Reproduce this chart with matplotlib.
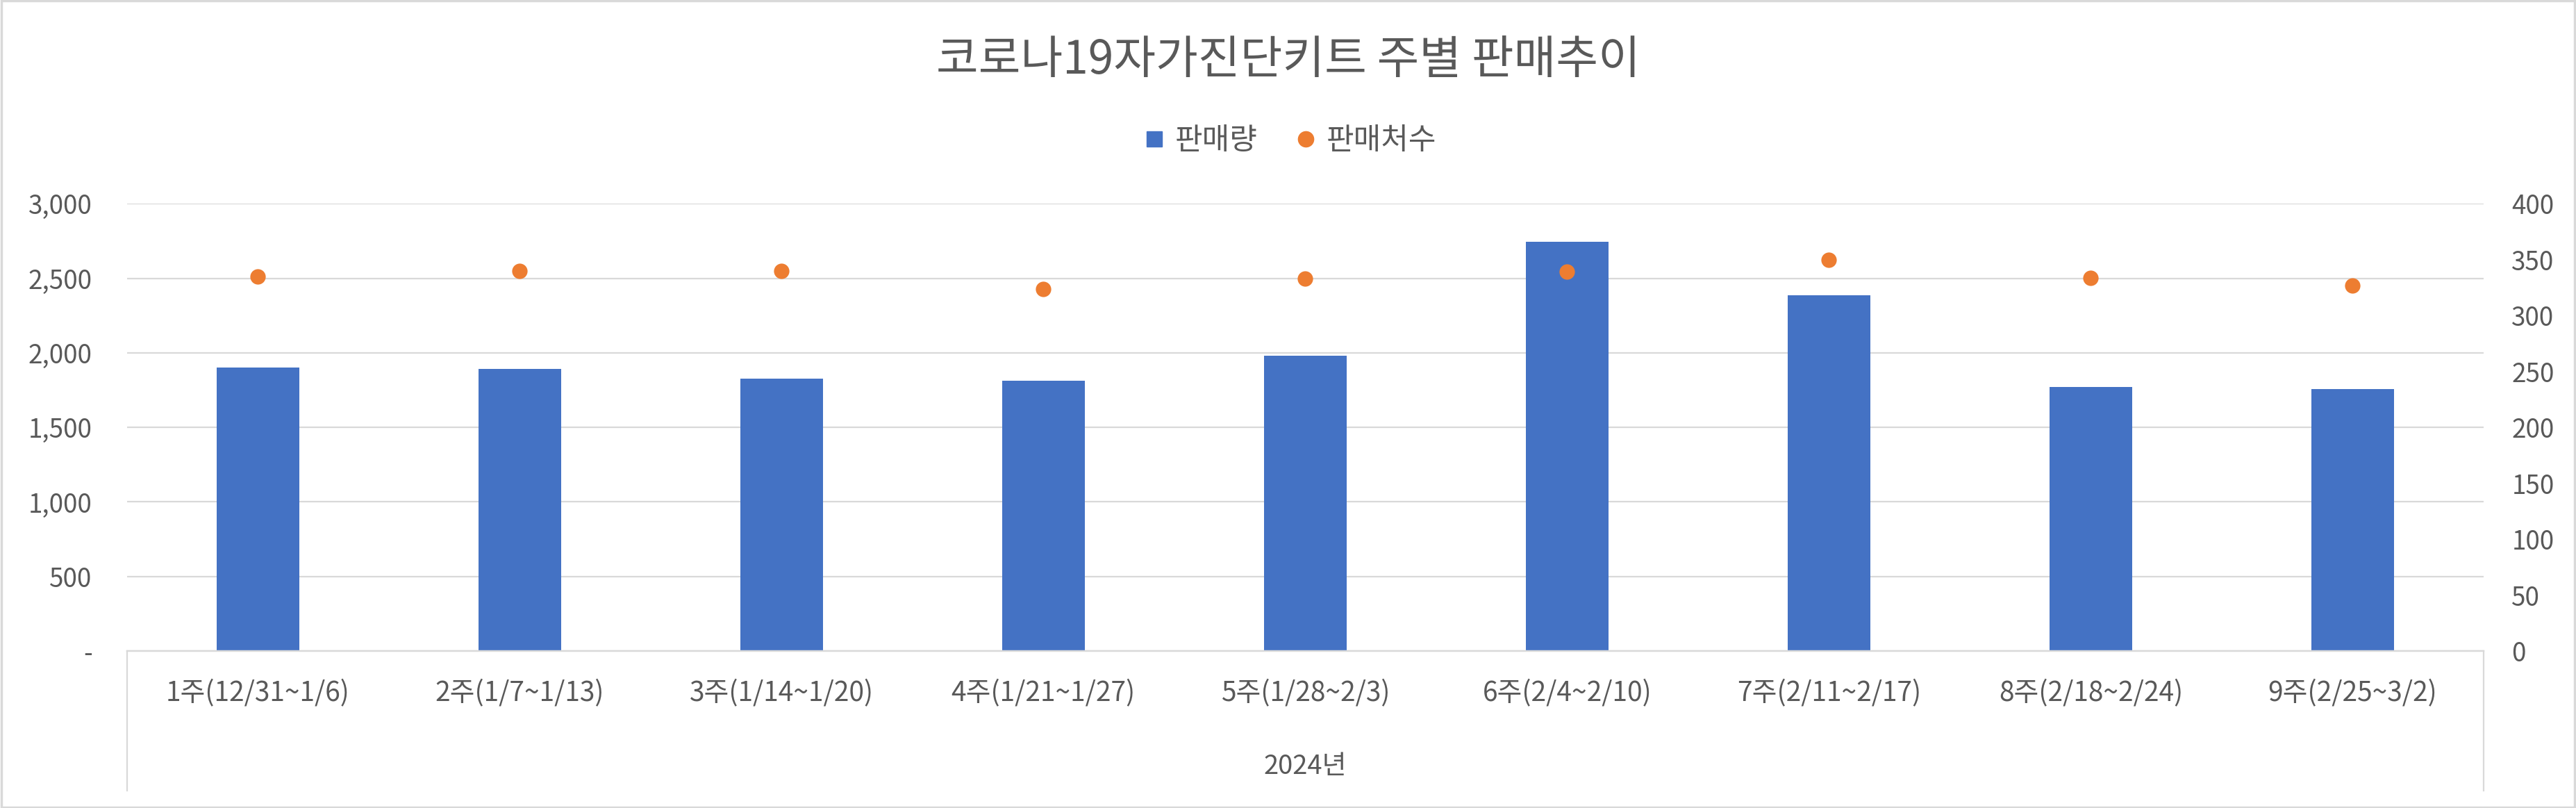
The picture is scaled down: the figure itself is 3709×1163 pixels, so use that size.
import matplotlib
matplotlib.use('Agg')
import matplotlib.pyplot as plt
import matplotlib.ticker as mticker
from matplotlib.lines import Line2D
from matplotlib.patches import Rectangle

plt.rcParams['font.family'] = ['Noto Sans CJK KR', 'DejaVu Sans']

# data
weeks = ['1주(12/31~1/6)', '2주(1/7~1/13)', '3주(1/14~1/20)', '4주(1/21~1/27)',
         '5주(1/28~2/3)', '6주(2/4~2/10)', '7주(2/11~2/17)', '8주(2/18~2/24)',
         '9주(2/25~3/2)']
sales = [1900, 1890, 1825, 1811, 1979, 2744, 2385, 1770, 1755]
stores = [335, 340, 340, 324, 333, 339, 350, 334, 327]
year_label = '2024년'
title = '코로나19자가진단키트 주별 판매추이'

BLUE = '#4472C4'
ORANGE = '#ED7D31'
GRID = '#D9D9D9'
TEXT = '#595959'

W, H = 3709, 1163
fig = plt.figure(figsize=(W / 100, H / 100), dpi=100)
ax = fig.add_axes([182.7 / W, 1 - 937 / H, (3576 - 182.7) / W, (937 - 293.3) / H])
ax2 = ax.twinx()

x = list(range(len(weeks)))

# ── bars (left axis) ──
ax.bar(x, sales, width=0.315, color=BLUE, zorder=2)
ax.set_ylim(0, 3000)
ax.set_yticks(range(0, 3001, 500))
ax.yaxis.set_major_formatter(mticker.FuncFormatter(
    lambda v, p: '-' if v == 0 else f'{int(v):,}'))
ax.grid(axis='y', color=GRID, lw=1.6)
ax.set_axisbelow(True)
ax.set_xlim(-0.5, len(weeks) - 0.5)
ax.set_xticks(x)
ax.set_xticklabels(weeks)

# ── dots (right axis) ──
ax2.plot(x, stores, 'o', color=ORANGE, ms=16, mec='none', zorder=3)
ax2.set_ylim(0, 400)
ax2.set_yticks(range(0, 401, 50))

for a in (ax, ax2):
    for s in ('top', 'left', 'right'):
        a.spines[s].set_visible(False)
    a.spines['bottom'].set_color(GRID)
    a.spines['bottom'].set_linewidth(1.6)
    a.tick_params(length=0, labelsize=26.5, labelcolor=TEXT)
ax.tick_params(axis='y', pad=36)
ax2.tick_params(axis='y', pad=29)
ax.tick_params(axis='x', pad=30, labelsize=28)
for lbl in ax2.get_yticklabels():
    lbl.set_ha('left')

# multi-level category axis: side lines + year label
tr = ax.get_xaxis_transform()
for xv in (-0.5, len(weeks) - 0.5):
    ax.plot([xv, xv], [0, -0.3123], transform=tr, color=GRID, lw=1.6,
            clip_on=False)
ax.text(0.5, -0.258, year_label, transform=ax.transAxes, ha='center',
        va='center', fontsize=27.5, color=TEXT)

# title & legend
fig.text(0.5, 1 - 87 / H, title, ha='center', va='center', fontsize=47.5,
         color=TEXT)
handles = [Line2D([], [], marker='s', ls='none', color=BLUE, ms=16),
           Line2D([], [], marker='o', ls='none', color=ORANGE, ms=16)]
fig.legend(handles, ['판매량', '판매처수'], loc='center', ncol=2,
           bbox_to_anchor=(0.5, 1 - 203 / H), frameon=False, fontsize=31,
           labelcolor=TEXT, handletextpad=0.2, columnspacing=1.1,
           handlelength=1.0)

# chart border
fig.patches.append(Rectangle((0.0005, 0.001), 0.999, 0.998,
                             transform=fig.transFigure, fill=False,
                             edgecolor=GRID, lw=2.5))

fig.savefig('out.png', dpi=100)
